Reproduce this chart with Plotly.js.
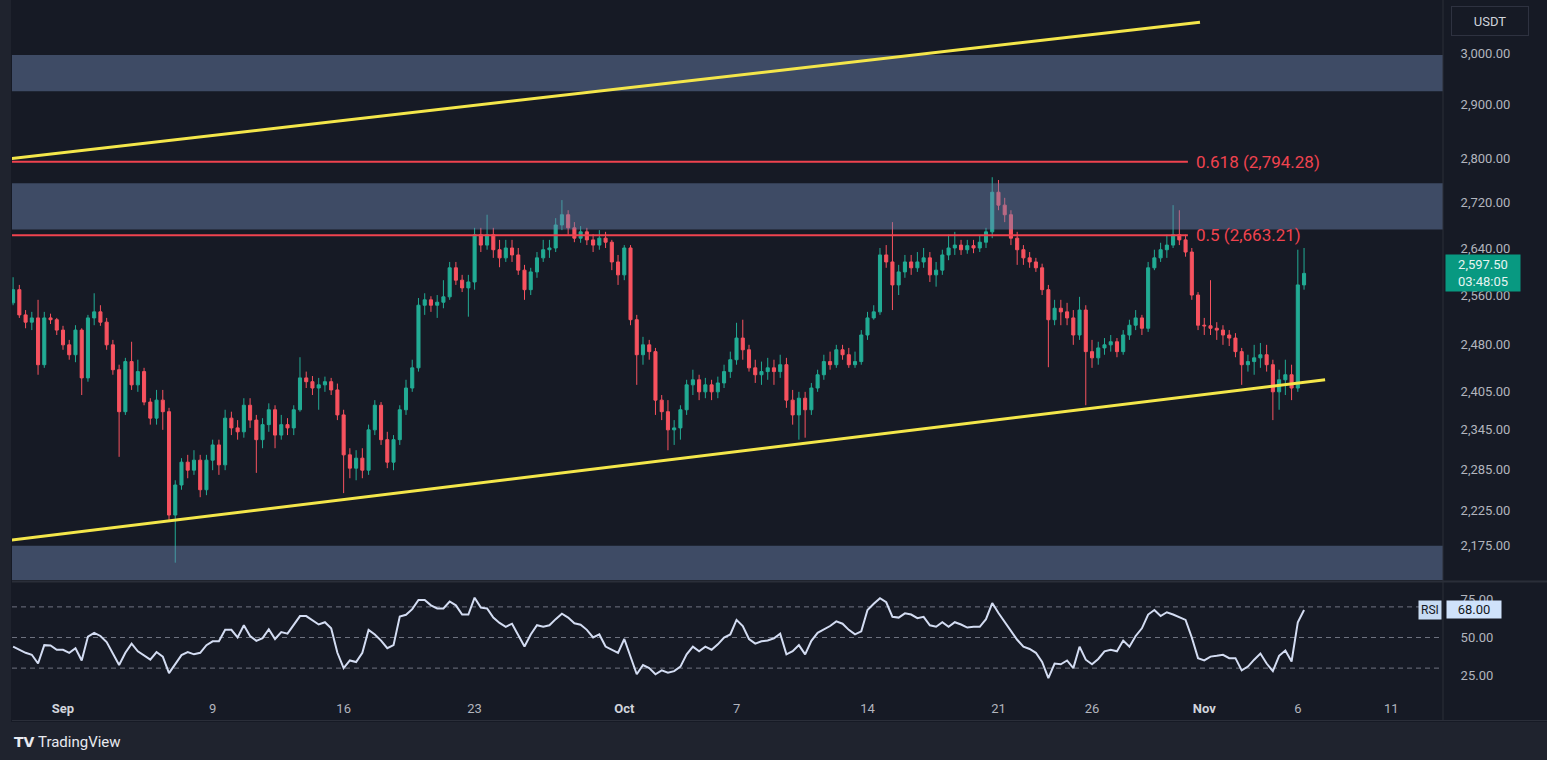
<!DOCTYPE html>
<html>
<head>
<meta charset="utf-8">
<script src="https://cdn.plot.ly/plotly-3.0.1.min.js"></script>
<style>
html,body{margin:0;padding:0;background:#161a25;overflow:hidden}
#chart{width:1547px;height:760px}
</style>
</head>
<body>
<div id="chart"></div>
<script>
// ---------- DATA (ETH/USDT, 8h candles) ----------
const firstCandle = '2024-08-29T08:00:00Z';
const candleStepHours = 8;

const openPx = [
2548,2570,2528,2516,2523,2447,2523,2520,2503,2479,
2463,2503,2426,2523,2533,2516,2479,2439,2373,2452,
2415,2436,2388,2363,2391,2373,2218,2262,2296,2284,
2299,2255,2299,2322,2292,2363,2348,2342,2383,2360,
2330,2353,2376,2337,2353,2348,2376,2426,2420,2410,
2415,2420,2407,2368,2307,2287,2302,2284,2345,2383,
2330,2296,2330,2376,2410,2442,2544,2553,2544,2549,
2558,2607,2586,2573,2583,2664,2646,2664,2638,2624,
2641,2629,2603,2570,2600,2624,2638,2641,2681,2699,
2676,2658,2669,2655,2646,2658,2651,2617,2595,2641,
2520,2463,2479,2468,2391,2373,2345,2348,2376,2415,
2423,2404,2415,2404,2418,2436,2455,2490,2471,2442,
2431,2436,2442,2436,2447,2391,2368,2394,2376,2410,
2431,2452,2447,2471,2463,2447,2452,2495,2523,2533,
2629,2617,2578,2600,2617,2607,2617,2624,2595,2603,
2629,2641,2646,2638,2645,2641,2651,2669,2739,2716,
2699,2658,2638,2624,2617,2607,2570,2520,2539,2533,
2523,2495,2536,2468,2458,2474,2479,2484,2468,2495,
2511,2523,2506,2607,2624,2638,2646,2664,2655,2634,
2561,2511,2510,2506,2503,2495,2490,2468,2447,2452,
2458,2463,2447,2404,2423,2431,2410,2578];

const highPx = [
2591,2578,2536,2533,2553,2533,2530,2523,2510,2487,
2511,2506,2528,2564,2544,2523,2487,2447,2458,2484,
2455,2442,2394,2407,2407,2379,2269,2302,2307,2314,
2307,2307,2330,2330,2376,2373,2360,2394,2394,2368,
2363,2386,2383,2368,2363,2383,2459,2436,2429,2426,
2428,2426,2417,2376,2317,2314,2317,2353,2391,2388,
2342,2337,2383,2423,2455,2556,2564,2559,2561,2586,
2617,2617,2595,2595,2676,2676,2699,2676,2655,2655,
2655,2641,2612,2607,2634,2655,2655,2693,2725,2707,
2686,2679,2676,2665,2672,2669,2655,2629,2646,2646,
2528,2492,2487,2474,2399,2391,2360,2383,2423,2439,
2431,2426,2423,2428,2447,2468,2515,2520,2479,2455,
2452,2458,2455,2463,2458,2407,2404,2404,2418,2439,
2463,2468,2479,2479,2474,2468,2503,2533,2544,2641,
2646,2686,2612,2629,2629,2634,2641,2634,2617,2638,
2664,2669,2655,2655,2655,2662,2676,2766,2761,2729,
2707,2669,2646,2634,2624,2614,2578,2553,2553,2548,
2536,2558,2544,2487,2484,2490,2495,2490,2503,2520,
2536,2528,2617,2638,2650,2664,2716,2707,2664,2641,
2566,2523,2586,2516,2511,2503,2498,2474,2463,2479,
2482,2479,2455,2439,2455,2447,2638,2641];

const lowPx = [
2544,2523,2506,2503,2431,2442,2513,2495,2471,2455,
2451,2399,2420,2511,2510,2471,2431,2304,2368,2407,
2404,2383,2353,2353,2345,2211,2150,2255,2272,2277,
2244,2247,2284,2277,2284,2337,2330,2333,2348,2280,
2317,2342,2317,2330,2337,2337,2373,2410,2399,2376,
2404,2399,2360,2250,2272,2269,2272,2277,2337,2322,
2287,2284,2322,2368,2404,2436,2528,2533,2523,2539,
2553,2578,2566,2525,2570,2634,2638,2624,2608,2617,
2617,2595,2553,2561,2590,2617,2624,2634,2672,2664,
2651,2650,2646,2634,2638,2641,2603,2578,2586,2511,
2415,2447,2455,2368,2360,2314,2322,2330,2368,2399,
2391,2394,2391,2394,2410,2426,2447,2455,2436,2418,
2415,2423,2415,2426,2379,2353,2330,2333,2368,2404,
2423,2439,2442,2455,2442,2442,2447,2487,2520,2528,
2607,2536,2561,2590,2595,2600,2607,2583,2575,2595,
2620,2629,2629,2631,2632,2634,2641,2658,2707,2686,
2646,2612,2612,2607,2600,2561,2443,2511,2511,2511,
2479,2487,2383,2442,2447,2463,2468,2459,2463,2487,
2503,2495,2500,2603,2617,2624,2641,2646,2626,2553,
2503,2495,2495,2487,2479,2477,2459,2415,2436,2431,
2442,2436,2360,2376,2399,2391,2404,2570];

const closePx = [
2570,2528,2516,2523,2447,2523,2520,2503,2479,2463,
2503,2426,2523,2533,2516,2479,2439,2373,2452,2415,
2436,2388,2363,2391,2373,2218,2262,2296,2284,2299,
2255,2299,2322,2292,2363,2348,2342,2383,2360,2330,
2353,2376,2337,2353,2348,2376,2426,2420,2410,2415,
2420,2407,2368,2307,2287,2302,2284,2345,2383,2330,
2296,2330,2376,2410,2442,2544,2553,2544,2549,2558,
2607,2586,2573,2583,2664,2646,2664,2638,2624,2641,
2629,2603,2570,2600,2624,2638,2641,2681,2699,2676,
2658,2669,2655,2646,2658,2651,2617,2595,2641,2520,
2463,2479,2468,2391,2373,2345,2348,2376,2415,2423,
2404,2415,2404,2418,2436,2455,2490,2471,2442,2431,
2436,2442,2436,2447,2391,2368,2394,2376,2410,2431,
2452,2447,2471,2463,2447,2452,2495,2523,2533,2629,
2617,2578,2600,2617,2607,2617,2624,2595,2603,2629,
2641,2646,2638,2645,2641,2651,2669,2739,2716,2699,
2658,2638,2624,2617,2607,2570,2520,2539,2533,2523,
2495,2536,2468,2458,2474,2479,2484,2468,2495,2511,
2523,2506,2607,2624,2638,2646,2664,2655,2634,2561,
2511,2510,2506,2503,2495,2490,2468,2447,2452,2458,
2463,2447,2404,2423,2431,2410,2578,2597.5];

const rsiValues = [
44,42,40,38.7,33,45,44.8,42,42,40,
43,35,50.6,53,51,47,39,32,40,46,
41,38,35.5,40.5,37.5,26.7,33,38.5,40.5,39,
40,45,47.5,47.5,55,55,50,58,51,47.8,
49.6,55.4,49,53.5,52.5,58,64,64,61,58.5,
60,56,40,30,35,34,40,55,52,48,
43,45,63.7,64.8,68.5,74.5,74.5,71,69,69,
73.5,71,65,65,76,69.5,69,63,59.5,57,
59,52,44.1,52,58,57,58,62,65.5,63,
59.3,58.3,55,50,52,44.1,42,40,49,38,
26,32,30,26,28.5,27,28,31,39,44,
41,44,42,45.5,50,52,61.5,57.5,49,46,
47.5,48,49.5,52.5,39,41,45,39,47.8,53,
55,57.5,60.5,59,55,52,54,68,72,75.7,
73,63.5,63,65.8,65,62.6,63.5,58,57,60,
57,60,58.5,56.5,57,57,62,72.5,66,60,
54,48.5,44,42.5,40,34,23.5,33,32.5,35,
30,44,35.5,32.5,36,41,42,41,48,44,
51,56,65,68,64,66.5,65,63,61.5,50,
36.5,35,37.5,38,38.7,36.5,36.5,28.5,31,35.5,
39.5,33,28,38,41.5,34.3,60,68];

// channel (yellow) lines: endpoints
const upperChannelX = ['2024-08-29 06:00', '2024-10-31 18:30'];
const upperChannelY = [2800, 3061];
const lowerChannelX = ['2024-08-29 06:00', '2024-11-07 11:00'];
const lowerChannelY = [2182, 2423];

// fib levels
const fibLabels = ['0.618 (2,794.28)', '0.5 (2,663.21)'];
const fibPrices = [2794.28, 2663.21];
const fibStart = '2024-08-29 06:00';
const fibEnd = '2024-10-31 03:00';

// supply / demand zones [low, high]
const zoneLows  = [2926, 2673, 2100];
const zoneHighs = [2996, 2755, 2174];

// axis ticks
const priceTickVals = [2175, 2225, 2285, 2345, 2405, 2480, 2560, 2640, 2720, 2800, 2900, 3000];
const rsiTickVals = [25, 50, 75];
const rsiBands = [70, 50, 30];
const dateTickVals = ['2024-09-01','2024-09-09','2024-09-16','2024-09-23','2024-10-01','2024-10-07',
                      '2024-10-14','2024-10-21','2024-10-26','2024-11-01','2024-11-06','2024-11-11'];
const dateTickText = ['Sep','9','16','23','Oct','7','14','21','26','Nov','6','11'];

const lastPrice = 2597.50;
const lastPriceTimer = '03:48:05';
const lastRsi = 68.00;

// ---------- BUILD ----------
const times = openPx.map((_, i) => {
  const d = new Date(Date.parse(firstCandle) + i * candleStepHours * 3600e3);
  return d.toISOString().slice(0, 16).replace('T', ' ');
});

const fmt2 = v => v.toLocaleString('en-US', {minimumFractionDigits: 2, maximumFractionDigits: 2});
const W = 1547, H = 760, ML = 12, MR = 104, MT = 0, MB = 70;
const PW = W - ML - MR, PH = H - MT - MB;
const px = x => (x - ML) / PW;           // pixel -> paper x
const py = y => 1 - (y - MT) / PH;       // pixel -> paper y
const L10 = Math.log10;

const UP = '#22ab94', DOWN = '#f7525f';
const FIB = '#f0434f';
const YEL = '#f4e64a';
const FONT = 'Roboto, "Noto Sans", sans-serif';

const traces = [];
// supply / demand zones as filled areas on the price axis
zoneLows.forEach((lo, i) => traces.push({
  type: 'scatter', mode: 'lines', xaxis: 'x', yaxis: 'y',
  x: ['2024-08-20', '2024-11-20', '2024-11-20', '2024-08-20', '2024-08-20'],
  y: [lo, lo, zoneHighs[i], zoneHighs[i], lo],
  fill: 'toself', fillcolor: 'rgba(110,135,180,0.45)', line: {width: 0},
  hoverinfo: 'skip', showlegend: false
}));
// fib lines
fibPrices.forEach(p => traces.push({
  type: 'scatter', mode: 'lines', xaxis: 'x', yaxis: 'y',
  x: [fibStart, fibEnd], y: [p, p], line: {color: FIB, width: 2},
  hoverinfo: 'skip', showlegend: false
}));
traces.push({
  type: 'candlestick', x: times, open: openPx, high: highPx, low: lowPx, close: closePx,
  xaxis: 'x', yaxis: 'y',
  increasing: {line: {color: UP, width: 1}, fillcolor: UP},
  decreasing: {line: {color: DOWN, width: 1}, fillcolor: DOWN},
  whiskerwidth: 0, hoverinfo: 'skip', showlegend: false
});
traces.push({type: 'scatter', mode: 'lines', x: upperChannelX, y: upperChannelY, xaxis: 'x', yaxis: 'y',
   line: {color: YEL, width: 3}, hoverinfo: 'skip', showlegend: false});
traces.push({type: 'scatter', mode: 'lines', x: lowerChannelX, y: lowerChannelY, xaxis: 'x', yaxis: 'y',
   line: {color: YEL, width: 3}, hoverinfo: 'skip', showlegend: false});
traces.push({type: 'scatter', mode: 'lines', x: times, y: rsiValues, xaxis: 'x', yaxis: 'y2',
   line: {color: '#d3dcf2', width: 2}, hoverinfo: 'skip', showlegend: false});

const shapes = [];
// outer strips
shapes.push({type: 'rect', xref: 'paper', yref: 'paper', x0: px(0), x1: px(11), y0: py(760), y1: py(0),
  fillcolor: '#1f232e', line: {width: 0}, layer: 'below'});
shapes.push({type: 'rect', xref: 'paper', yref: 'paper', x0: px(0), x1: px(1547), y0: py(760), y1: py(722),
  fillcolor: '#1f232e', line: {width: 0}, layer: 'below'});
// rsi dashed bands
rsiBands.forEach(v => shapes.push({
  type: 'line', xref: 'paper', yref: 'y2', x0: 0, x1: 1, y0: v, y1: v,
  line: {color: '#6f7380', width: 1, dash: '5px,4px'}, layer: 'below'
}));
// pane separator and borders
shapes.push({type: 'line', xref: 'paper', yref: 'paper', x0: px(12), x1: px(1547), y0: py(581.5), y1: py(581.5),
  line: {color: '#2a2e39', width: 2}});
shapes.push({type: 'line', xref: 'paper', yref: 'paper', x0: px(12), x1: px(1547), y0: py(720.5), y1: py(720.5),
  line: {color: '#2a2e39', width: 1}});
shapes.push({type: 'line', xref: 'paper', yref: 'paper', x0: px(1443), x1: px(1443), y0: py(720), y1: py(0),
  line: {color: '#2a2e39', width: 1}});

const annotations = [];
fibLabels.forEach((t, i) => annotations.push({
  xref: 'x', yref: 'y', x: '2024-10-31 11:00', y: L10(fibPrices[i]), xanchor: 'left', yanchor: 'middle',
  text: t, showarrow: false, font: {family: FONT, size: 17, color: FIB}
}));
annotations.push({
  xref: 'paper', yref: 'y', x: px(1445), y: L10(lastPrice), xanchor: 'left', yanchor: 'middle',
  text: fmt2(lastPrice) + '<br>' + lastPriceTimer, showarrow: false, align: 'center',
  bgcolor: '#089981', borderpad: 2, width: 70,
  font: {family: FONT, size: 13, color: '#e6f4f1'}
});
annotations.push({
  xref: 'paper', yref: 'paper', x: px(1490), y: py(21), xanchor: 'center', yanchor: 'middle',
  text: 'USDT', showarrow: false, width: 72, height: 24, borderpad: 2,
  bordercolor: '#2e3240', borderwidth: 1, bgcolor: '#161a25',
  font: {family: FONT, size: 13, color: '#d1d4dc'}
});
annotations.push({
  xref: 'paper', yref: 'y2', x: px(1442), y: lastRsi, xanchor: 'right', yanchor: 'middle',
  text: 'RSI', showarrow: false, bgcolor: '#c7dbf3', borderpad: 2,
  font: {family: FONT, size: 12, color: '#131722'}
});
annotations.push({
  xref: 'paper', yref: 'y2', x: px(1446), y: lastRsi, xanchor: 'left', yanchor: 'middle',
  text: fmt2(lastRsi), showarrow: false, bgcolor: '#cfe2fb', borderpad: 1, width: 52,
  font: {family: FONT, size: 13, color: '#131722'}
});
annotations.push({
  xref: 'paper', yref: 'paper', x: px(12), y: py(742), xanchor: 'left', yanchor: 'middle',
  text: '<b>TV</b>', showarrow: false, font: {family: 'DejaVu Sans', size: 14, color: '#e8eaf0'}
});
annotations.push({
  xref: 'paper', yref: 'paper', x: px(36), y: py(742), xanchor: 'left', yanchor: 'middle',
  text: 'TradingView', showarrow: false, font: {family: '"Liberation Sans Narrow", "Roboto", sans-serif', size: 15, color: '#e8eaf0'}
});

const layout = {
  width: W, height: H,
  margin: {l: ML, r: MR, t: MT, b: MB},
  paper_bgcolor: '#161a25', plot_bgcolor: '#161a25',
  showlegend: false, hovermode: false, dragmode: false,
  font: {family: FONT, color: '#b2b5be', size: 13},
  xaxis: {
    type: 'date', anchor: 'y2', domain: [0, 1],
    range: ['2024-08-29 06:35', '2024-11-13 18:14'],
    rangeslider: {visible: false},
    tickmode: 'array', tickvals: dateTickVals,
    ticktext: dateTickText.map(t => /^[A-Z]/.test(t) ? '<span style="font-weight:bold;fill:#d1d4dc">' + t + '</span>' : t),
    ticks: 'outside', ticklen: 6, tickcolor: 'rgba(0,0,0,0)',
    showgrid: false, zeroline: false, showline: false,
    tickfont: {family: FONT, size: 13, color: '#b2b5be'}
  },
  yaxis: {
    type: 'log', domain: [py(580), 1], anchor: 'x', side: 'right',
    range: [L10(2125.8), L10(3105.7)],
    tickmode: 'array', tickvals: priceTickVals, ticktext: priceTickVals.map(fmt2),
    ticks: 'outside', ticklen: 14, tickcolor: 'rgba(0,0,0,0)',
    showgrid: false, zeroline: false, showline: false,
    tickfont: {family: FONT, size: 13, color: '#b2b5be'}
  },
  yaxis2: {
    domain: [0, py(583)], anchor: 'x', side: 'right',
    range: [15.7, 85.6],
    tickmode: 'array', tickvals: rsiTickVals, ticktext: rsiTickVals.map(fmt2),
    ticks: 'outside', ticklen: 14, tickcolor: 'rgba(0,0,0,0)',
    showgrid: false, zeroline: false, showline: false,
    tickfont: {family: FONT, size: 13, color: '#b2b5be'}
  },
  shapes: shapes,
  annotations: annotations
};

Plotly.newPlot('chart', traces, layout, {staticPlot: true, displayModeBar: false});
</script>
</body>
</html>
